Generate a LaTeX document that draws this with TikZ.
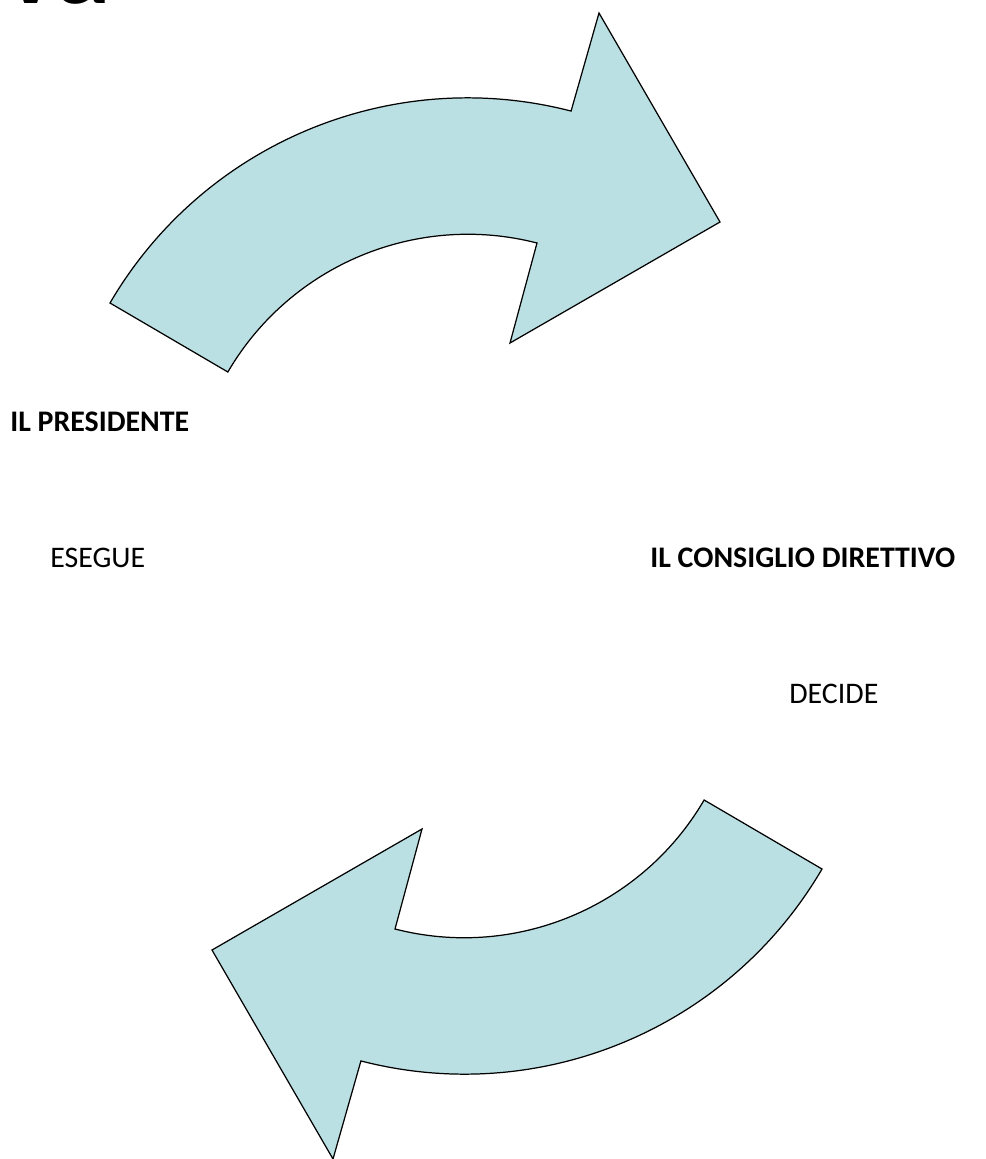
\documentclass[tikz,border=0pt]{standalone}
\usepackage{fontspec}
\setmainfont{Carlito}
\usepackage{tikz}
\usetikzlibrary{positioning}

\definecolor{arrowfill}{HTML}{BBE0E3}

% curved block arrow, centre of its arcs at (468,-512)
\newcommand{\bentarrow}{%
  (110,-303) arc[start angle=149.7, end angle=75.5, radius=414]
  -- (599,-13) -- (720,-222) -- (510,-343) -- (537,-243)
  arc[start angle=75.6, end angle=149.7, radius=278] -- cycle}

\begin{document}
\begin{tikzpicture}[
    x=0.02cm, y=0.02cm,
    blockarrow/.style={draw=black, line width=0.7pt, fill=arrowfill, line join=miter},
    role/.style={anchor=west, inner sep=0pt, font=\fontsize{17}{20}\selectfont\bfseries},
    task/.style={anchor=west, inner sep=0pt, font=\fontsize{17}{20}\selectfont}
]
\useasboundingbox (0,0) rectangle (985,-1159);

% title cut off at the top edge
\begin{scope}
\clip (0,0) rectangle (985,-1159);
\node[anchor=base west, inner sep=0pt, font=\fontsize{64}{70}\selectfont\bfseries] (title) at (4,-4) {va};
\end{scope}

\draw[blockarrow] \bentarrow;
\begin{scope}[rotate around={180:(466,-586)}]
\draw[blockarrow] \bentarrow;
\end{scope}

\node[role] (presidente) at (10,-422) {IL PRESIDENTE};
\node[task] (esegue) at (50,-558) {ESEGUE};
\node[role] (consiglio) at (650,-558) {IL CONSIGLIO DIRETTIVO};
\node[task] (decide) at (789,-694) {DECIDE};
\end{tikzpicture}
\end{document}
